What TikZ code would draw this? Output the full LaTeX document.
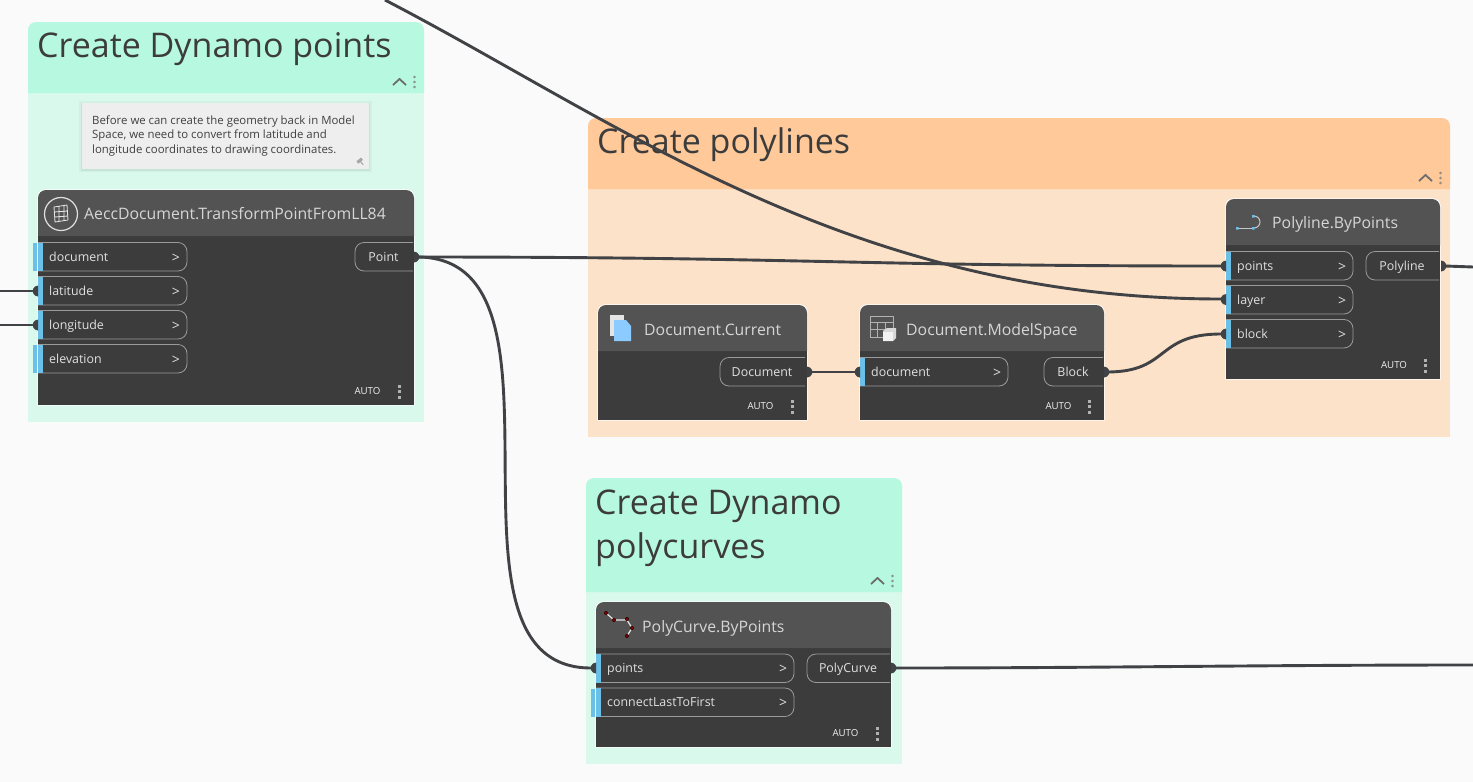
\documentclass[tikz,border=0pt]{standalone}
\usepackage{fontspec}
\setmainfont{Open Sans}
\usetikzlibrary{calc}
\definecolor{bgc}{HTML}{FAFAFA}
\definecolor{grnh}{HTML}{B7F9E0}
\definecolor{grnb}{HTML}{D8F9EC}
\definecolor{orah}{HTML}{FFC999}
\definecolor{orab}{HTML}{FCE2C8}
\definecolor{nodeb}{HTML}{3C3C3C}
\definecolor{nodeh}{HTML}{535353}
\definecolor{wirec}{HTML}{404245}
\definecolor{blueb}{HTML}{6AC0E7}
\definecolor{pilled}{HTML}{9A9A9A}
\definecolor{txtl}{HTML}{E0E0E0}
\definecolor{titlec}{HTML}{3C3C3C}
\definecolor{notec}{HTML}{EEEEEE}
\definecolor{iconw}{HTML}{E4E4E4}
\definecolor{iconb}{HTML}{8CCBFF}
\definecolor{iconc}{HTML}{D8D8D8}
\tikzset{
  x=1pt,y=-1pt,
  wire/.style={draw=wirec,line width=2.9pt},
  titletext/.style={anchor=base west,inner sep=0,text=titlec,font=\fontsize{34}{44}\selectfont},
  porttext/.style={anchor=base west,inner sep=0,text=txtl,font=\fontsize{12.4}{14}\selectfont},
  headtext/.style={anchor=base west,inner sep=0,text=txtl!90!gray,font=\fontsize{15.8}{18}\selectfont},
  autotext/.style={anchor=center,inner sep=0,text=white!95!black,font=\fontsize{9.7}{11}\selectfont},
  notetext/.style={anchor=base west,inner sep=0,text=black!75,font=\fontsize{11.4}{13}\selectfont},
}
% group: x1 y1 x2 y2 yh header body
\newcommand{\grp}[7]{%
  \fill[#7] (#1,#5) rectangle (#3,#4);
  \fill[#6,rounded corners=8pt] (#1,#5) -- (#1,#2) -- (#3,#2) [sharp corners] -- (#3,#5) -- cycle;
  \draw[gray!85!black,line width=1.8pt] (#3-31,#5-8) -- (#3-24.5,#5-14) -- (#3-18,#5-8);
  \foreach \d in {-5,0,5} \draw[gray,line width=0.5pt] (#3-9.5,#5-11+\d) circle (1pt);
}
% node frame: x1 y1 x2 y2 yh
\newcommand{\nodebox}[5]{%
  \fill[white,rounded corners=8pt] (#1-.7,#4+.7) -- (#1-.7,#2-.7) -- (#3+.7,#2-.7) [sharp corners] -- (#3+.7,#4+.7) -- cycle;
  \fill[nodeb] (#1,#5) rectangle (#3,#4);
  \fill[nodeh,rounded corners=8pt] (#1,#5) -- (#1,#2) -- (#3,#2) [sharp corners] -- (#3,#5) -- cycle;
}
% input port: x, ytop, xright, label
\newcommand{\inport}[4]{%
  \draw[pilled,line width=.8pt,rounded corners=9pt] (#1,#2) -- (#3,#2) -- (#3,#2+28.5) -- (#1,#2+28.5);
  \fill[blueb] (#1,#2) rectangle (#1+5,#2+28.5);
  \node[porttext] at (#1+11,#2+18.8) {#4};
  \node[inner sep=0,text=txtl,font=\fontsize{14}{14}\selectfont] at (#3-11,#2+15.5) {>};
}
% unconnected flag
\newcommand{\flagbar}[2]{\fill[blueb] (#1-5,#2) rectangle (#1-1,#2+28);}
% output port: xl ytop xr label
\newcommand{\outport}[4]{%
  \draw[pilled,line width=.8pt,rounded corners=9pt] (#3,#2) -- (#1,#2) -- (#1,#2+28.5) -- (#3,#2+28.5);
  \node[anchor=base,inner sep=0,text=txtl,font=\fontsize{12.4}{14}\selectfont] at ({(#1+#3)/2-.5},#2+18.8) {#4};
}
% auto: xauto xdots y
\newcommand{\autolab}[3]{%
  \node[autotext] at (#1,#3) {AUTO};
  \fill[gray!60] (#2-1.5,#3-7) rectangle (#2+1.5,#3-4);
  \fill[gray!60] (#2-1.5,#3-1.5) rectangle (#2+1.5,#3+1.5);
  \fill[gray!60] (#2-1.5,#3+4) rectangle (#2+1.5,#3+7);
}
% port markers
\newcommand{\mkin}[2]{\fill[wirec] (#1,#2-5.5) -- (#1,#2+5.5) -- (#1-3,#2+4.5) -- (#1-5,#2+2) -- (#1-5,#2-2) -- (#1-3,#2-4.5) -- cycle;}
\newcommand{\mkout}[2]{\fill[wirec] (#1,#2-5.5) -- (#1,#2+5.5) -- (#1+3,#2+4.5) -- (#1+5,#2+2) -- (#1+5,#2-2) -- (#1+3,#2-4.5) -- cycle;}
\begin{document}
\begin{tikzpicture}
\useasboundingbox (0,0) rectangle (1473,782);
\fill[bgc] (0,0) rectangle (1473,782);

% ---- groups
\grp{28}{22}{424}{422}{93}{grnh}{grnb}
\node[titletext] (t1) at (37,57) {Create Dynamo points};
\grp{588}{118}{1450}{437}{189}{orah}{orab}
\node[titletext] (t2) at (597,153.5) {Create polylines};
\grp{586}{478}{902}{764}{592}{grnh}{grnb}
\node[titletext] (t3a) at (595,514) {Create Dynamo};
\node[titletext] (t3b) at (595,558) {polycurves};

% ---- note
\fill[black,opacity=.03] (79,101) rectangle (372,172);
\fill[black,opacity=.05] (81,103) rectangle (370,171);
\fill[notec] (82,103) rectangle (369,169);
\node[notetext] (n1) at (92,124) {Before we can create the geometry back in Model};
\node[notetext] (n2) at (92,138) {Space, we need to convert from latitude and};
\node[notetext] (n3) at (92,153) {longitude coordinates to drawing coordinates.};
\fill[gray!70,rotate around={40:(360,161)}] (357,159) rectangle (363,162) (359.5,162) rectangle (360.5,166);

% ---- nodes
\nodebox{38}{190}{414}{405}{236}
\node[headtext] (h1) at (84,219.5) {AeccDocument.TransformPointFromLL84};
\draw[txtl,line width=1.2pt] (61,214) circle (16.5pt);
\draw[txtl!80,line width=.8pt] (54,207) -- (67,205) -- (68,220) -- (55,222) -- cycle (54,212) -- (68,211) (59,206) -- (59,222) (64,205) -- (64,221) (55,217) -- (68,216);
\inport{38}{242.5}{187}{document}\flagbar{38}{243}
\inport{38}{276.5}{187}{latitude}
\inport{38}{310.5}{187}{longitude}
\inport{38}{344.5}{187}{elevation}\flagbar{38}{345}
\outport{355}{242.5}{413}{Point}
\autolab{367.5}{399}{391.5}

\nodebox{1226}{199}{1440}{379}{245}
\node[headtext] (h2) at (1272,228.5) {Polyline.ByPoints};
\draw[gray!45,line width=1pt] (1238,228) -- (1252,228);
\draw[gray!45,line width=1pt] (1254,216) arc[start angle=90,end angle=-90,radius=6pt];
\fill[blueb] (1236,227) rectangle (1238.5,229.5) (1252,215) rectangle (1254.5,217.5) (1252,227) rectangle (1254.5,229.5);
\inport{1226}{251.5}{1353}{points}
\inport{1226}{285.5}{1353}{layer}
\inport{1226}{319.5}{1353}{block}
\outport{1366}{251.5}{1439}{Polyline}
\autolab{1394}{1425}{365.5}

\nodebox{598}{305}{807}{420}{351}
\node[headtext] (h3) at (644,335) {Document.Current};
\fill[iconw] (610,315) rectangle (624,336);
\fill[iconb] (614,320) -- (626,320) -- (631,326) -- (631,341) -- (614,341) -- cycle;
\outport{720}{357.5}{805}{Document}
\autolab{760.5}{792}{406.5}

\nodebox{860}{305}{1104}{420}{351}
\node[headtext] (h4) at (906,335) {Document.ModelSpace};
\draw[gray!60,line width=.7pt] (870,316) rectangle (893,337) (870,322) -- (893,322) (870,329) -- (893,329) (877,322) -- (877,337) (885,322) -- (885,337);
\fill[iconc] (883,331) -- (887,328) -- (896,328) -- (896,338) -- (893,341) -- (883,341) -- cycle;
\fill[white!95!black] (883,332) rectangle (892.5,341);
\outport{1044}{357.5}{1103}{Block}
\inport{860}{357.5}{1008}{document}
\autolab{1058.5}{1089}{406.5}

\nodebox{596}{602}{891}{747}{648}
\node[headtext] (h5) at (642,632) {PolyCurve.ByPoints};
\draw[white!90!black,line width=1.2pt] (606,613) -- (614,620) -- (627,620) -- (632,628) -- (627,636);
\foreach \p in {(606,613),(614,620),(627,619),(632,628),(627,636)} \fill[black!80!red] \p circle (2pt);
\foreach \p in {(606,613),(614,620),(627,619),(632,628),(627,636)} \fill[red!70!black] \p circle (1pt);
\inport{596}{654}{794}{points}
\inport{596}{688}{794}{connectLastToFirst}\flagbar{596}{688.5}
\outport{807}{654}{890}{PolyCurve}
\autolab{845.5}{877}{733.5}

% ---- pins
\coordinate (p1-lat) at (33,291);
\coordinate (p1-lon) at (33,325);
\coordinate (p1-out) at (417,257);
\coordinate (p2-pts) at (1221,266);
\coordinate (p2-lay) at (1221,299);
\coordinate (p2-blk) at (1221,334);
\coordinate (p2-out) at (1445,266);
\coordinate (p3-out) at (810,372);
\coordinate (p4-doc) at (855,372);
\coordinate (p4-out) at (1107,372);
\coordinate (p5-pts) at (591,668);
\coordinate (p5-out) at (894,668);
\coordinate (offL1) at (0,291);
\coordinate (offL2) at (0,325);
\coordinate (offT) at (385,0);
\coordinate (offR1) at (1473,267);
\coordinate (offR2) at (1473,665);

% ---- wires
\draw[wire] (offL1) -- (p1-lat);
\draw[wire] (offL2) -- (p1-lon);
\draw[wire] (p1-out) .. controls (800,257) and (850,266) .. (p2-pts);
\draw[wire] (offT) .. controls (620,122) and (850,299) .. (p2-lay);
\draw[wire] (p1-out) .. controls (590,257) and (421,668) .. (p5-pts);
\draw[wire] (p3-out) -- (p4-doc);
\draw[wire] (p4-out) .. controls (1170,372) and (1155,334) .. (p2-blk);
\draw[wire] (p2-out) -- (offR1);
\draw[wire] (p5-out) .. controls (1100,668) and (1250,665) .. (offR2);
\mkin{38}{291}\mkin{38}{325}
\mkout{414}{257}
\mkin{1226}{266}\mkin{1226}{299.5}\mkin{1226}{334}
\mkout{1441}{266}
\mkout{807}{372}\mkin{860}{372}\mkout{1104}{372}
\mkin{596}{668}\mkout{891}{668}
\end{tikzpicture}
\end{document}
